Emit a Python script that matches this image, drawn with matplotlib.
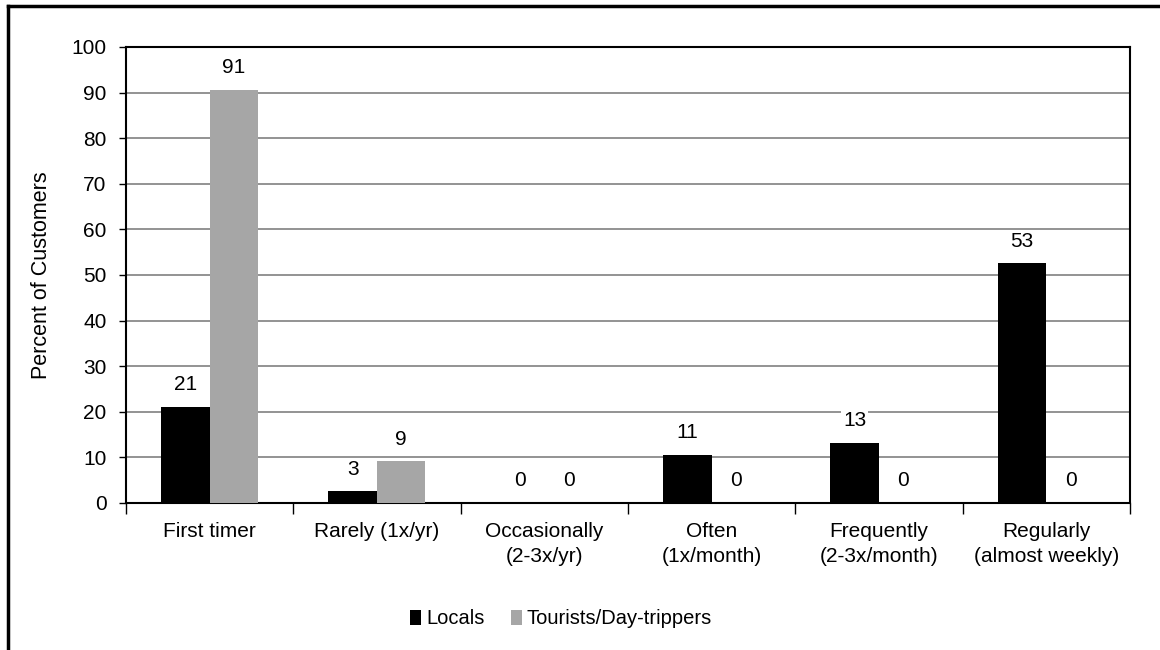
import matplotlib.pyplot as plt
import numpy as np
from matplotlib.lines import Line2D

plt.rcParams['font.family'] = ['Liberation Sans', 'DejaVu Sans']

# Data
categories = ['First timer', 'Rarely (1x/yr)', 'Occasionally\n(2-3x/yr)',
              'Often\n(1x/month)', 'Frequently\n(2-3x/month)', 'Regularly\n(almost weekly)']
locals_pct = [21.1, 2.6, 0, 10.6, 13.2, 52.6]
tourists_pct = [90.6, 9.1, 0, 0, 0, 0]
yticks = list(range(0, 101, 10))

fig = plt.figure(figsize=(11.6, 6.5), dpi=100)
ax = fig.add_axes([0.1086, 0.2262, 0.8655, 0.7015])

x = np.arange(len(categories))
w = 0.29
b1 = ax.bar(x - w / 2, locals_pct, w, color='black', label='Locals', zorder=3)
b2 = ax.bar(x + w / 2, tourists_pct, w, color='#a6a6a6', label='Tourists/Day-trippers', zorder=3)

# value labels with white boxes over the gridlines
for bars, vals in [(b1, locals_pct), (b2, tourists_pct)]:
    for rect, v in zip(bars, vals):
        ax.annotate(f'{v:.0f}', (rect.get_x() + rect.get_width() / 2, v),
                    textcoords='offset points', xytext=(0, 9), ha='center', va='bottom',
                    fontsize=15, zorder=4,
                    bbox=dict(facecolor='white', edgecolor='none', pad=1.5))

ax.set_ylim(0, 100)
ax.set_xlim(-0.5, len(categories) - 0.5)
ax.set_yticks(yticks)
ax.yaxis.grid(True, color='#808080', linewidth=1.2, zorder=0)
ax.set_axisbelow(True)

ax.set_xticks(x)
ax.set_xticklabels(categories, fontsize=15, linespacing=1.35)
ax.tick_params(axis='x', length=0, pad=14)
ax.set_xticks(np.arange(len(categories) + 1) - 0.5, minor=True)
ax.tick_params(axis='x', which='minor', length=8, width=1, direction='out')
ax.tick_params(axis='y', length=5, width=1, labelsize=15, pad=9)

for s in ax.spines.values():
    s.set_linewidth(1.5)
    s.set_color('black')

ax.set_ylabel('Percent of Customers', fontsize=15.5, labelpad=14)

ax.legend(loc='center', bbox_to_anchor=(561 / 1160, 1 - 619 / 650),
          bbox_transform=fig.transFigure, ncol=2, frameon=False,
          fontsize=14.5, handlelength=0.55, handleheight=0.7, handletextpad=0.25,
          columnspacing=1.3)

# outer frame (left and top only visible)
fig.add_artist(Line2D([0.0065, 0.0065], [0, 0.991], color='black', linewidth=2.5,
                      transform=fig.transFigure))
fig.add_artist(Line2D([0.0065, 1], [0.991, 0.991], color='black', linewidth=2.5,
                      transform=fig.transFigure))

fig.savefig('out.png', dpi=100)
